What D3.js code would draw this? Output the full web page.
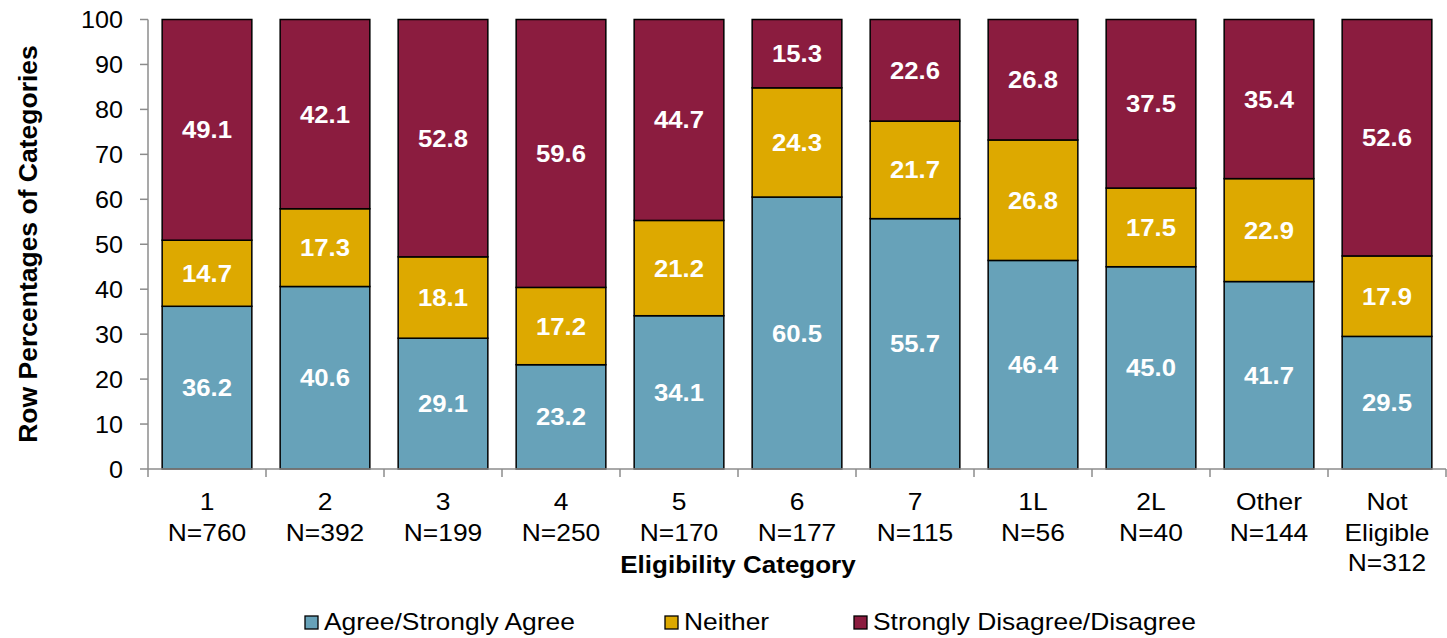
<!DOCTYPE html>
<html>
<head>
<meta charset="utf-8">
<script src="https://cdn.jsdelivr.net/npm/d3@7"></script>
<style>
  html, body { margin: 0; padding: 0; background: #fff; }
  svg { display: block; font-family: "Liberation Sans", Arial, sans-serif; }
</style>
</head>
<body>
<svg id="chart" width="1447" height="638"></svg>
<script>
// Eligibility categories and group sizes
const categories = ["1", "2", "3", "4", "5", "6", "7", "1L", "2L", "Other", "Not Eligible"];
const sampleSizes = [760, 392, 199, 250, 170, 177, 115, 56, 40, 144, 312];

// Row percentages per response group
const agree    = [36.2, 40.6, 29.1, 23.2, 34.1, 60.5, 55.7, 46.4, 45.0, 41.7, 29.5];
const neither  = [14.7, 17.3, 18.1, 17.2, 21.2, 24.3, 21.7, 26.8, 17.5, 22.9, 17.9];
const disagree = [49.1, 42.1, 52.8, 59.6, 44.7, 15.3, 22.6, 26.8, 37.5, 35.4, 52.6];

const seriesNames = ["Agree/Strongly Agree", "Neither", "Strongly Disagree/Disagree"];
const yTicks = [0, 10, 20, 30, 40, 50, 60, 70, 80, 90, 100];

const colors = ["#67a2b9", "#dda900", "#8b1c3f"];

const svg = d3.select("#chart");
const m = { left: 148, right: 1446, top: 19.5, bottom: 469 };

// Slightly widen horizontal text (wide-set lettering)
function widen(sel, factor) {
  sel.each(function() {
    const len = this.getComputedTextLength();
    d3.select(this).attr("textLength", len * factor).attr("lengthAdjust", "spacingAndGlyphs");
  });
  return sel;
}

const rows = categories.map((c, i) => ({
  cat: c, n: sampleSizes[i], s0: agree[i], s1: neither[i], s2: disagree[i]
}));
const stack = d3.stack().keys(["s0", "s1", "s2"])(rows);

const x = d3.scaleBand().domain(categories).range([m.left, m.right]).paddingInner(0.24).paddingOuter(0.12);
const y = d3.scaleLinear().domain([0, 100]).range([m.bottom, m.top]);

// Bars
stack.forEach((layer, li) => {
  svg.append("g").selectAll("rect").data(layer).join("rect")
    .attr("x", d => x(d.data.cat))
    .attr("width", x.bandwidth())
    .attr("y", d => y(Math.min(d[1], 100)))
    .attr("height", d => y(d[0]) - y(Math.min(d[1], 100)))
    .attr("fill", colors[li])
    .attr("stroke", "#000")
    .attr("stroke-width", 1.5);
});

// Value labels
stack.forEach((layer, li) => {
  const t = svg.append("g").selectAll("text").data(layer).join("text")
    .attr("x", d => x(d.data.cat) + x.bandwidth() / 2)
    .attr("y", d => y((d[0] + Math.min(d[1], 100)) / 2))
    .attr("text-anchor", "middle")
    .attr("dominant-baseline", "central")
    .attr("fill", "#fff")
    .attr("font-weight", "bold")
    .attr("font-size", 24)
    .text(d => (d[1] - d[0]).toFixed(1));
  widen(t, 1.07);
});

// Y axis
const yAxis = svg.append("g");
yAxis.append("line")
  .attr("x1", m.left).attr("x2", m.left).attr("y1", m.top).attr("y2", m.bottom)
  .attr("stroke", "#8c8c8c").attr("stroke-width", 1.5);
yAxis.selectAll("line.tick").data(yTicks).join("line")
  .attr("class", "tick")
  .attr("x1", m.left - 8).attr("x2", m.left)
  .attr("y1", d => y(d)).attr("y2", d => y(d))
  .attr("stroke", "#8c8c8c").attr("stroke-width", 1.5);
const yLabels = yAxis.selectAll("text").data(yTicks).join("text")
  .attr("x", m.left - 25)
  .attr("y", d => y(d))
  .attr("text-anchor", "end")
  .attr("dominant-baseline", "central")
  .attr("font-size", 24)
  .attr("fill", "#000")
  .text(d => d);
widen(yLabels, 1.05);

// X axis
const xAxis = svg.append("g");
xAxis.append("line")
  .attr("x1", m.left).attr("x2", m.right).attr("y1", m.bottom).attr("y2", m.bottom)
  .attr("stroke", "#8c8c8c").attr("stroke-width", 1.5);
const step = x.step();
const bounds = d3.range(categories.length + 1).map(i => m.left + i * step);
xAxis.selectAll("line.tick").data(bounds).join("line")
  .attr("class", "tick")
  .attr("x1", d => d).attr("x2", d => d)
  .attr("y1", m.bottom).attr("y2", m.bottom + 8)
  .attr("stroke", "#8c8c8c").attr("stroke-width", 1.5);

const labelLines = [];
rows.forEach(d => {
  const lines = d.cat.split(" ").concat(["N=" + d.n]);
  lines.forEach((l, i) => labelLines.push({ cat: d.cat, text: l, row: i }));
});
const catLabels = xAxis.selectAll("text").data(labelLines).join("text")
  .attr("x", d => x(d.cat) + x.bandwidth() / 2)
  .attr("y", d => 510 + d.row * 30.5)
  .attr("text-anchor", "middle")
  .attr("font-size", 24)
  .attr("fill", "#000")
  .text(d => d.text);
widen(catLabels, 1.1);

// Axis titles
svg.append("text")
  .attr("transform", `translate(37,244) rotate(-90)`)
  .attr("text-anchor", "middle")
  .attr("font-weight", "bold")
  .attr("font-size", 26.5)
  .text("Row Percentages of Categories");

const xTitle = svg.append("text")
  .attr("x", 738)
  .attr("y", 573)
  .attr("text-anchor", "middle")
  .attr("font-weight", "bold")
  .attr("font-size", 23)
  .text("Eligibility Category");
widen(xTitle, 1.13);

// Legend
const legendX = [305, 665, 854];
const legend = svg.append("g").selectAll("g").data(seriesNames).join("g")
  .attr("transform", (d, i) => `translate(${legendX[i]},616)`);
legend.append("rect")
  .attr("width", 13).attr("height", 13)
  .attr("fill", (d, i) => colors[i])
  .attr("stroke", "#000").attr("stroke-width", 1.3);
const legendText = legend.append("text")
  .attr("x", 19).attr("y", 14)
  .attr("font-size", 24)
  .text(d => d);
widen(legendText, 1.1);
</script>
</body>
</html>
